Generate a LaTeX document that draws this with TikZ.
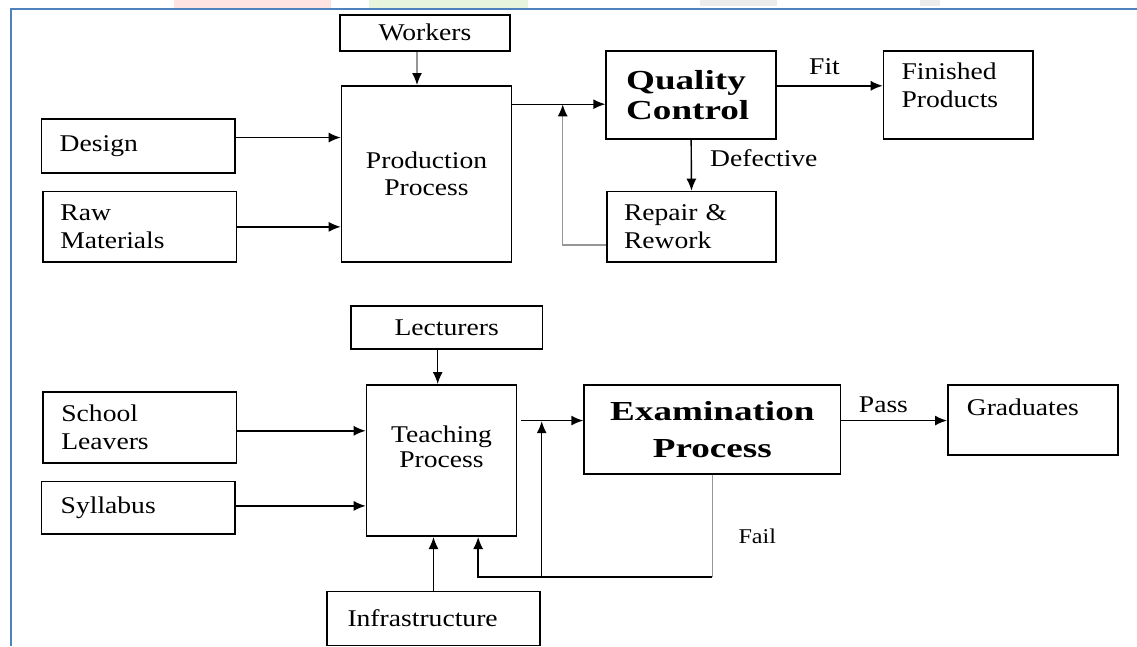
\documentclass[tikz,border=0pt]{standalone}
\usepackage{fontspec}
\setmainfont{Liberation Serif}[FakeStretch=1.15]
\newfontfamily\widefont{Liberation Serif}[FakeStretch=1.35]
\usetikzlibrary{arrows.meta,positioning,calc}
\definecolor{cFrame}{RGB}{79,129,189}
\definecolor{cGrey}{RGB}{150,150,150}
\definecolor{cPinkWm}{RGB}{255,226,226}
\definecolor{cGreenWm}{RGB}{232,245,222}
\definecolor{cGreyWm}{RGB}{236,236,236}
\newcommand{\boxtext}{\fontsize{24}{27.6}\selectfont}
\newcommand{\headtext}{\fontsize{27.5}{30}\selectfont\widefont\bfseries}

\begin{document}
\begin{tikzpicture}[
  x=1pt, y=-1pt,
  >={Latex[length=12pt,width=10pt]},
  box/.style={draw, line width=1.7pt, inner sep=0pt, anchor=north west, font=\boxtext},
  lbox/.style={box, align=left},
  cbox/.style={box, align=center},
  flow/.style={line width=1.4pt, ->},
  back/.style={line width=1.4pt, draw=cGrey, -{Latex[length=12pt,width=10pt,color=black]}},
  lbl/.style={anchor=base west, inner sep=0pt, font=\boxtext}
]
\useasboundingbox (0,0) rectangle (1137,646);

% page frame and watermark traces
\fill[cPinkWm] (174,0) rectangle (331,7.5);
\fill[cGreenWm] (369,0) rectangle (528,7.5);
\fill[cGreyWm] (700,0) rectangle (777,6);
\fill[cGreyWm] (920,0) rectangle (940,6);
\draw[cFrame, line width=2pt] (11,646) -- (11,9) -- (1137,9);

% Production
\node[cbox, minimum width=170.3pt, minimum height=36pt] (workers) at (339,14) {Workers};
\node[cbox, minimum width=170pt, minimum height=176pt] (prod) at (340.7,85) {Production\\Process};
\node[lbox, text width=157pt, minimum width=193.3pt, minimum height=54pt] (design) at (40.7,118.3) {Design};
\node[lbox, text width=159pt, minimum width=193.4pt, minimum height=70.6pt] (raw) at (42.3,190.7) {Raw\\Materials};
\node[lbox, text width=130pt, minimum width=170pt, minimum height=88.3pt, font=\headtext] (qc) at (605.3,50) {Quality\\Control};
\node[lbox, text width=113.6pt, minimum width=149.6pt, text height=29pt, text depth=59.3pt] (fin) at (882.7,50) {Finished\\Products};
\node[lbox, text width=135pt, minimum width=169.3pt, minimum height=70.3pt] (repair) at (606,190.7) {Repair \&\\Rework};

\coordinate (qcin) at ([yshift=-9.2pt]qc.west);
\coordinate (fitl) at ([yshift=9.2pt]qc.east);
\coordinate (rwout) at ([yshift=-18.4pt]repair.west);
\coordinate (fb) at (562.7,103.3);

\draw[back] ([xshift=-8pt]workers.south) -- ([xshift=-8pt]workers.south |- prod.north);
\draw[flow] ([yshift=8.6pt]design.east) -- ([yshift=8.6pt]design.east -| prod.west);
\draw[flow] (raw.east) -- (raw.east -| prod.west);
\draw[flow] (qcin -| prod.east) -- (qcin);
\draw[back, shorten >=1pt] (rwout) -| (fb);
\draw[flow] (fitl) -- (fitl -| fin.west);
\draw[flow] (qc.south) -- (repair.north);
\node[lbl] (fit) at (809,74) {Fit};
\node[lbl] (defective) at (710,166.7) {Defective};

% Education
\node[cbox, minimum width=191.7pt, minimum height=43pt] (lect) at (350,305) {Lecturers};
\node[cbox, text width=140pt, minimum width=150pt, text height=57.3pt, text depth=94pt, font=\fontsize{24}{25}\selectfont] (teach) at (365.7,384) {Teaching\\Process};
\node[lbox, text width=157pt, minimum width=193.4pt, minimum height=70.7pt] (school) at (42.3,391.3) {School\\Leavers};
\node[lbox, text width=155pt, minimum width=193.3pt, minimum height=52.3pt] (syll) at (40.7,480.7) {Syllabus};
\node[cbox, minimum width=256.4pt, minimum height=89pt, font=\fontsize{27.5}{36.6}\selectfont\widefont\bfseries] (exam) at (583.3,384) {Examination\\Process};
\node[lbox, text width=132pt, minimum width=170pt, text height=30.7pt, text depth=39.3pt] (grad) at (947,384) {Graduates};
\node[lbox, text width=172pt, minimum width=213.3pt, minimum height=54pt] (infra) at (326,590.7) {Infrastructure};

\coordinate (exin) at ([yshift=8.8pt]exam.west);
\coordinate (loopb) at (541.7,577);
\coordinate (tfb) at ([xshift=36.6pt]teach.south);

\draw[flow] ([xshift=-9pt]lect.south) -- ([xshift=-9pt]lect.south |- teach.north);
\draw[flow] ([yshift=-3.3pt]school.east) -- ([yshift=-3.3pt]school.east -| teach.west);
\draw[flow] ([yshift=1.8pt]syll.east) -- ([yshift=1.8pt]syll.east -| teach.west);
\draw[flow, shorten <=4pt] (exin -| teach.east) -- (exin);
\draw[flow] (exin -| exam.east) -- (exin -| grad.west);
\draw[line width=1.4pt, cGrey] (exam.south) -- (exam.south |- loopb);
\draw[line width=1.4pt] (exam.south |- loopb) -- (loopb);
\draw[flow, shorten >=0.6pt] (loopb) -- (loopb |- exin);
\draw[flow] (loopb) -| (tfb);
\draw[flow] (infra.north) -- (infra.north |- teach.south);
\node[lbl] (pass) at (858.7,412.3) {Pass};
\node[lbl, font=\fontsize{21}{24}\selectfont] (fail) at (738.3,543) {Fail};

\end{tikzpicture}
\end{document}
